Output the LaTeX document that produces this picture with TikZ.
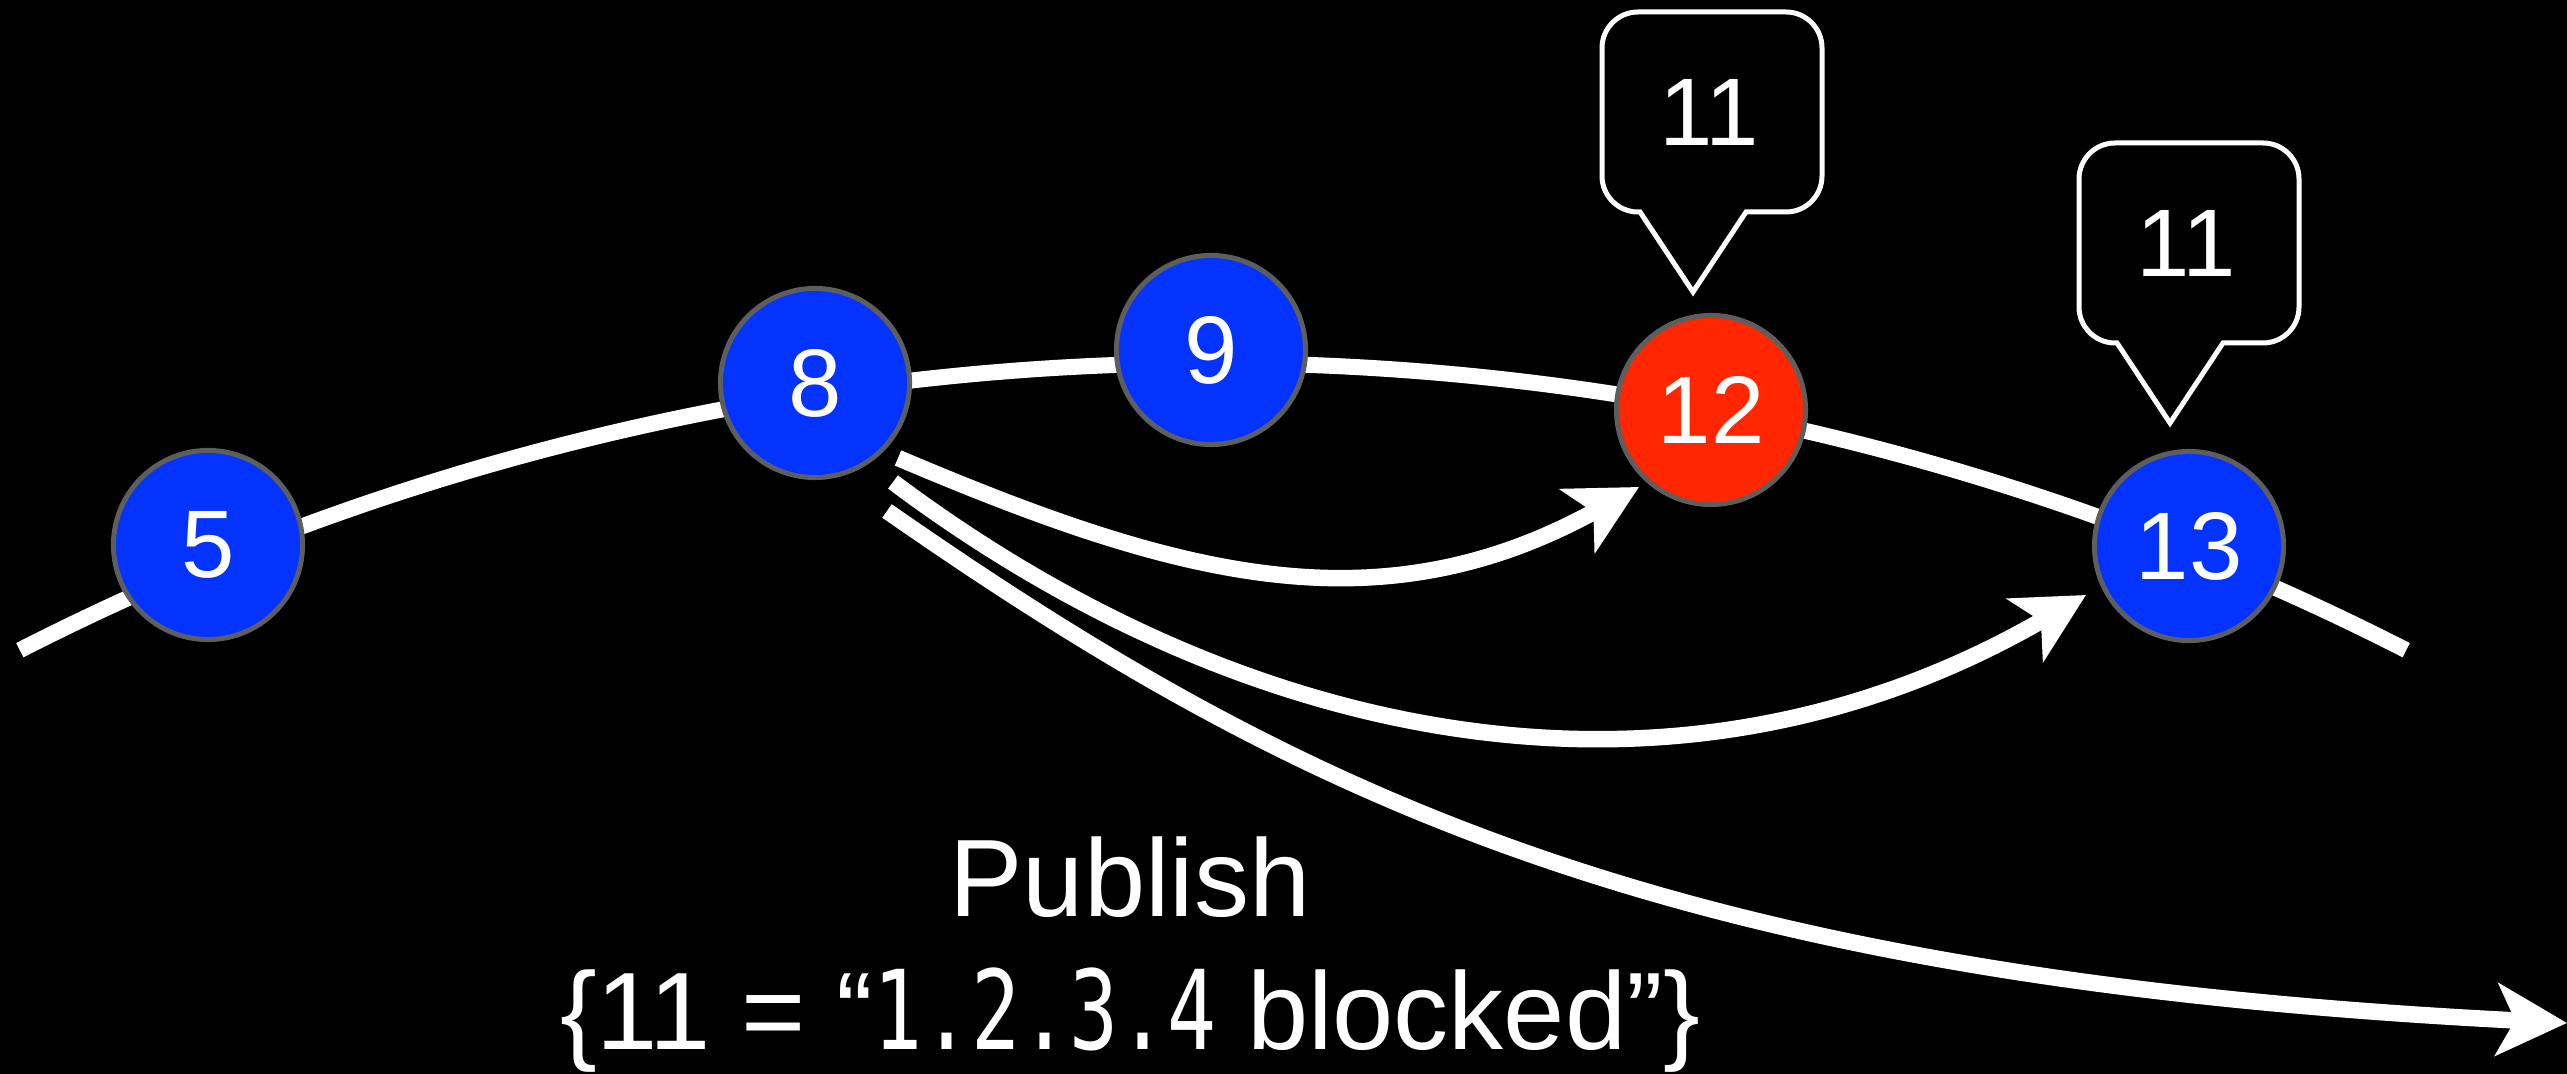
\documentclass[tikz,border=0pt]{standalone}
\usepackage{fontspec}
\setmainfont{Liberation Sans}
\newfontfamily\codefont[FakeStretch=0.74]{DejaVu Sans Mono}
\usetikzlibrary{arrows.meta,calc}

\definecolor{keyblue}{HTML}{0433FF}
\definecolor{keyred}{HTML}{FF2600}
\definecolor{ringgray}{HTML}{5E5E5E}

\begin{document}
\begin{tikzpicture}[x=0.01cm, y=-0.01cm,
  ring/.style={circle, minimum size=1.89cm, inner sep=0pt, draw=ringgray,
    line width=0.05cm, text=white, font=\fontsize{27.3}{30}\selectfont},
  peer/.style={ring, fill=keyblue},
  hot/.style={ring, fill=keyred},
  track/.style={white, line width=0.16cm},
  hop/.style={white, line width=0.165cm,
    -{Stealth[length=0.7cm, width=0.72cm, inset=0.18cm]}},
  caption/.style={text=white, inner sep=0pt, anchor=base,
    font=\fontsize{31.3}{37.8}\selectfont},
  pics/balloon/.style={code={
    \draw[white, line width=0.05cm, fill=black]
      (-53,-80) -- (-55,-80)
      arc[start angle=90, end angle=180, radius=36] -- (-91,-244)
      arc[start angle=180, end angle=270, radius=36] -- (93,-280)
      arc[start angle=270, end angle=360, radius=36] -- (129,-116)
      arc[start angle=0, end angle=90, radius=36] -- (53,-80)
      -- (0,0) -- cycle;
    \node[text=white, inner sep=0pt, font=\fontsize{27.3}{30}\selectfont]
      (-txt) at (16,-180) {#1};
  }}
]
% canvas
\useasboundingbox (0,0) rectangle (2567,1074);
\fill[black] (0,0) rectangle (2567,1074);

% the ring of the overlay, seen as an arc
\draw[track] (1213,2986) ++(-117.06:2623)
  arc[start angle=-117.06, end angle=-62.94, radius=2623];

% peers on the ring
\node[peer] (n5)  at (208,545)  {5};
\node[peer] (n8)  at (815,383)  {8};
\node[peer] (n9)  at (1211,350) {9};
\node[hot]  (n12) at (1711,410) {12};
\node[peer] (n13) at (2189,546) {13};

% stored keys
\pic (b12) at (1693,292) {balloon=11};
\pic (b13) at (2170,423) {balloon=11};

% publish messages sent by peer 8
\coordinate (away) at (2567,1023);
\draw[hop] ($(n8)+(83,75)$) .. controls (1174,575) and (1376,632) .. ($(n12)+(-72,77)$);
\draw[hop] ($(n8)+(78,99)$) .. controls (1229,734) and (1662,840) .. ($(n13)+(-103,49)$);
\draw[hop] ($(n8)+(72,128)$) .. controls (1297,796) and (1667,978) .. (away);

% caption
\node[caption] (pub) at (1130,917) {Publish};
\node[caption] (payload) at (1130,1050) {\{11 = “{\codefont 1.2.3.4} blocked”\}};
\end{tikzpicture}
\end{document}
